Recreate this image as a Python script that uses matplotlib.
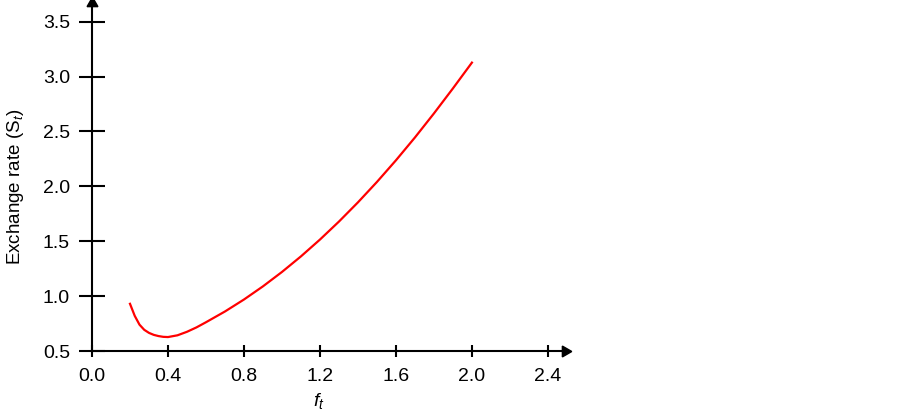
import matplotlib
matplotlib.use("Agg")
import matplotlib.pyplot as plt

plt.rcParams['font.family'] = ['Liberation Sans', 'DejaVu Sans']
plt.rcParams['mathtext.fontset'] = 'custom'
plt.rcParams['mathtext.rm'] = 'Liberation Sans'
plt.rcParams['mathtext.it'] = 'Liberation Sans:italic'

# values
f_t = [0.20, 0.225, 0.25, 0.275, 0.30, 0.325, 0.35, 0.375, 0.40, 0.45, 0.50,
       0.55, 0.60, 0.70, 0.80, 0.90, 1.00, 1.10, 1.20, 1.30, 1.40, 1.50,
       1.60, 1.70, 1.80, 1.90, 2.00]
s_t = [0.93, 0.82, 0.74, 0.693, 0.665, 0.647, 0.636, 0.629, 0.627, 0.643, 0.675,
       0.715, 0.762, 0.86, 0.969, 1.089, 1.22, 1.362, 1.515, 1.679, 1.854, 2.04,
       2.237, 2.445, 2.664, 2.892, 3.127]

xticks = [0.0, 0.4, 0.8, 1.2, 1.6, 2.0, 2.4]
yticks = [0.5, 1.0, 1.5, 2.0, 2.5, 3.0, 3.5]

W, H = 903, 417
fig = plt.figure(figsize=(W / 100, H / 100), dpi=100)
ax = fig.add_axes([92 / W, (H - 351) / H, (565 - 92) / W, 348 / H])

ax.plot(f_t, s_t, color="#ff0000", lw=1.6, clip_on=False)

ax.set_xlim(0, 2.49)
ax.set_ylim(0.5, 3.67)
ax.set_xticks(xticks)
ax.set_xticklabels(["%.1f" % v for v in xticks])
ax.set_yticks(yticks)
ax.set_yticklabels(["%.1f" % v for v in yticks])

for s in ["top", "right"]:
    ax.spines[s].set_visible(False)
for s in ["left", "bottom"]:
    ax.spines[s].set_linewidth(1.5)

# arrow heads at the axis ends
ax.plot(1, 0, marker=(3, 0, -90), color="k", ms=9, transform=ax.transAxes, clip_on=False)
ax.plot(0, 1, marker=(3, 0, 0), color="k", ms=9, transform=ax.transAxes, clip_on=False)

ax.tick_params(axis="y", direction="inout", length=18.5, width=1.5, labelsize=14, pad=6.5)
ax.tick_params(axis="x", direction="inout", length=8, width=1.5, labelsize=14, pad=8)

ax.set_xlabel("$f_t$", fontsize=14)
ax.set_ylabel("Exchange rate (S$_{\\mathit{t}}$)", fontsize=13.5)
ax.xaxis.set_label_coords((319 - 92) / (565 - 92), -0.115)
ax.yaxis.set_label_coords(-(92 - 26) / (565 - 92), (351 - 187) / 348)

fig.savefig("out.png", dpi=100)
